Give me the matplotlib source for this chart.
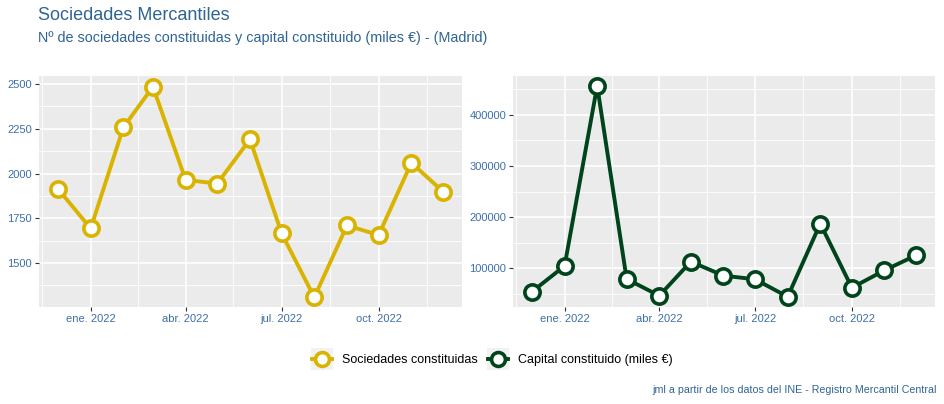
import matplotlib
matplotlib.use("Agg")
import matplotlib.pyplot as plt
import matplotlib.dates as mdates
from matplotlib.lines import Line2D
import datetime as dt

plt.rcParams['font.family'] = ['Liberation Sans', 'DejaVu Sans']

months = ["2021-12-01", "2022-01-01", "2022-02-01", "2022-03-01", "2022-04-01",
          "2022-05-01", "2022-06-01", "2022-07-01", "2022-08-01", "2022-09-01",
          "2022-10-01", "2022-11-01", "2022-12-01"]
sociedades = [1914, 1693, 2258, 2485, 1964, 1944, 2191, 1665, 1308, 1710, 1656, 2060, 1899]
capital = [54200, 104500, 456700, 79000, 46400, 113000, 85600, 78500, 44400, 187300, 62000, 96000, 125400]
x_tick_labels = ["ene. 2022", "abr. 2022", "jul. 2022", "oct. 2022"]
x_tick_dates = ["2022-01-01", "2022-04-01", "2022-07-01", "2022-10-01"]
x_minor_dates = ["2021-11-16", "2022-02-15", "2022-05-16", "2022-08-16", "2022-11-16"]
left_yticks = [1500, 1750, 2000, 2250, 2500]
left_yminor = [1375, 1625, 1875, 2125, 2375]
right_yticks = [100000, 200000, 300000, 400000]
right_yminor = [50000, 150000, 250000, 350000, 450000]
series_names = ["Sociedades constituidas", "Capital constituido (miles €)"]
colors = ["#D9B300", "#00441B"]

dates = [dt.datetime.strptime(d, "%Y-%m-%d") for d in months]
xt = [dt.datetime.strptime(d, "%Y-%m-%d") for d in x_tick_dates]
xm = [dt.datetime.strptime(d, "%Y-%m-%d") for d in x_minor_dates]

W, H = 944, 404
fig = plt.figure(figsize=(W/100, H/100), dpi=100)

tick_color = "#3d6fa8"
title_color = "#2f6494"
panel_bg = "#EBEBEB"

def make_ax(x0, x1, y0, y1):
    return fig.add_axes([x0/W, 1 - y1/H, (x1-x0)/W, (y1-y0)/H])

axL = make_ax(39, 462, 76, 307)
axR = make_ax(513, 935, 76, 307)

xlim = (dt.datetime(2021, 11, 13), dt.datetime(2022, 12, 19))

def style(ax, yt, ym, ylim):
    ax.set_facecolor(panel_bg)
    for s in ax.spines.values():
        s.set_visible(False)
    ax.set_xlim(mdates.date2num(xlim[0]), mdates.date2num(xlim[1]))
    ax.set_ylim(*ylim)
    ax.set_xticks([mdates.date2num(d) for d in xt])
    ax.set_xticklabels(x_tick_labels)
    ax.set_yticks(yt)
    ax.set_yticklabels([str(v) for v in yt])
    for v in ym:
        ax.axhline(v, color="white", lw=0.6, zorder=0.5)
    for d in xm:
        ax.axvline(mdates.date2num(d), color="white", lw=0.6, zorder=0.5)
    for v in yt:
        ax.axhline(v, color="white", lw=1.2, zorder=0.6)
    for d in xt:
        ax.axvline(mdates.date2num(d), color="white", lw=1.2, zorder=0.6)
    ax.tick_params(axis="both", colors="#333333", labelcolor=tick_color,
                   labelsize=8, length=3, width=0.8, pad=2)

style(axL, left_yticks, left_yminor, (1254, 2545))
style(axR, right_yticks, right_yminor, (24300, 476000))

xd = mdates.date2num(dates)
for ax, vals, c in [(axL, sociedades, colors[0]), (axR, capital, colors[1])]:
    ax.plot(xd, vals, color=c, lw=2.8, zorder=2, solid_joinstyle="round")
    ax.plot(xd, vals, ls="none", marker="o", ms=11, mfc="white", mec=c, mew=2.6, zorder=3)

fig.text(38/W, 1 - 16/H, "Sociedades Mercantiles", fontsize=13, color=title_color, va="center", ha="left")
fig.text(38/W, 1 - 38/H, "Nº de sociedades constituidas y capital constituido (miles €) - (Madrid)",
         fontsize=10.4, color=title_color, va="center", ha="left")
fig.text(937/W, 1 - 390/H, "jml a partir de los datos del INE - Registro Mercantil Central",
         fontsize=7.7, color=title_color, va="center", ha="right")

# legend drawn manually (ggplot-like keys)
key_centers = [322, 498]
text_x = [342, 518]
ky = 359
for cx, tx, c, name in zip(key_centers, text_x, colors, series_names):
    fig.patches.append(plt.Rectangle(((cx - 11) / W, 1 - (ky + 11) / H), 22 / W, 22 / H,
                                     transform=fig.transFigure, facecolor="#F2F2F2",
                                     edgecolor="none", zorder=1))
    fig.lines.append(Line2D([(cx - 10) / W, (cx + 10) / W], [1 - ky / H, 1 - ky / H],
                            transform=fig.transFigure, color=c, lw=2.8, zorder=2))
    fig.lines.append(Line2D([cx / W], [1 - ky / H], transform=fig.transFigure, ls="none",
                            marker="o", ms=10, mfc="white", mec=c, mew=2.6, zorder=3))
    fig.text(tx / W, 1 - (ky + 1) / H, name, fontsize=9, color="black", va="center", ha="left")

fig.savefig("out.png", dpi=100)
